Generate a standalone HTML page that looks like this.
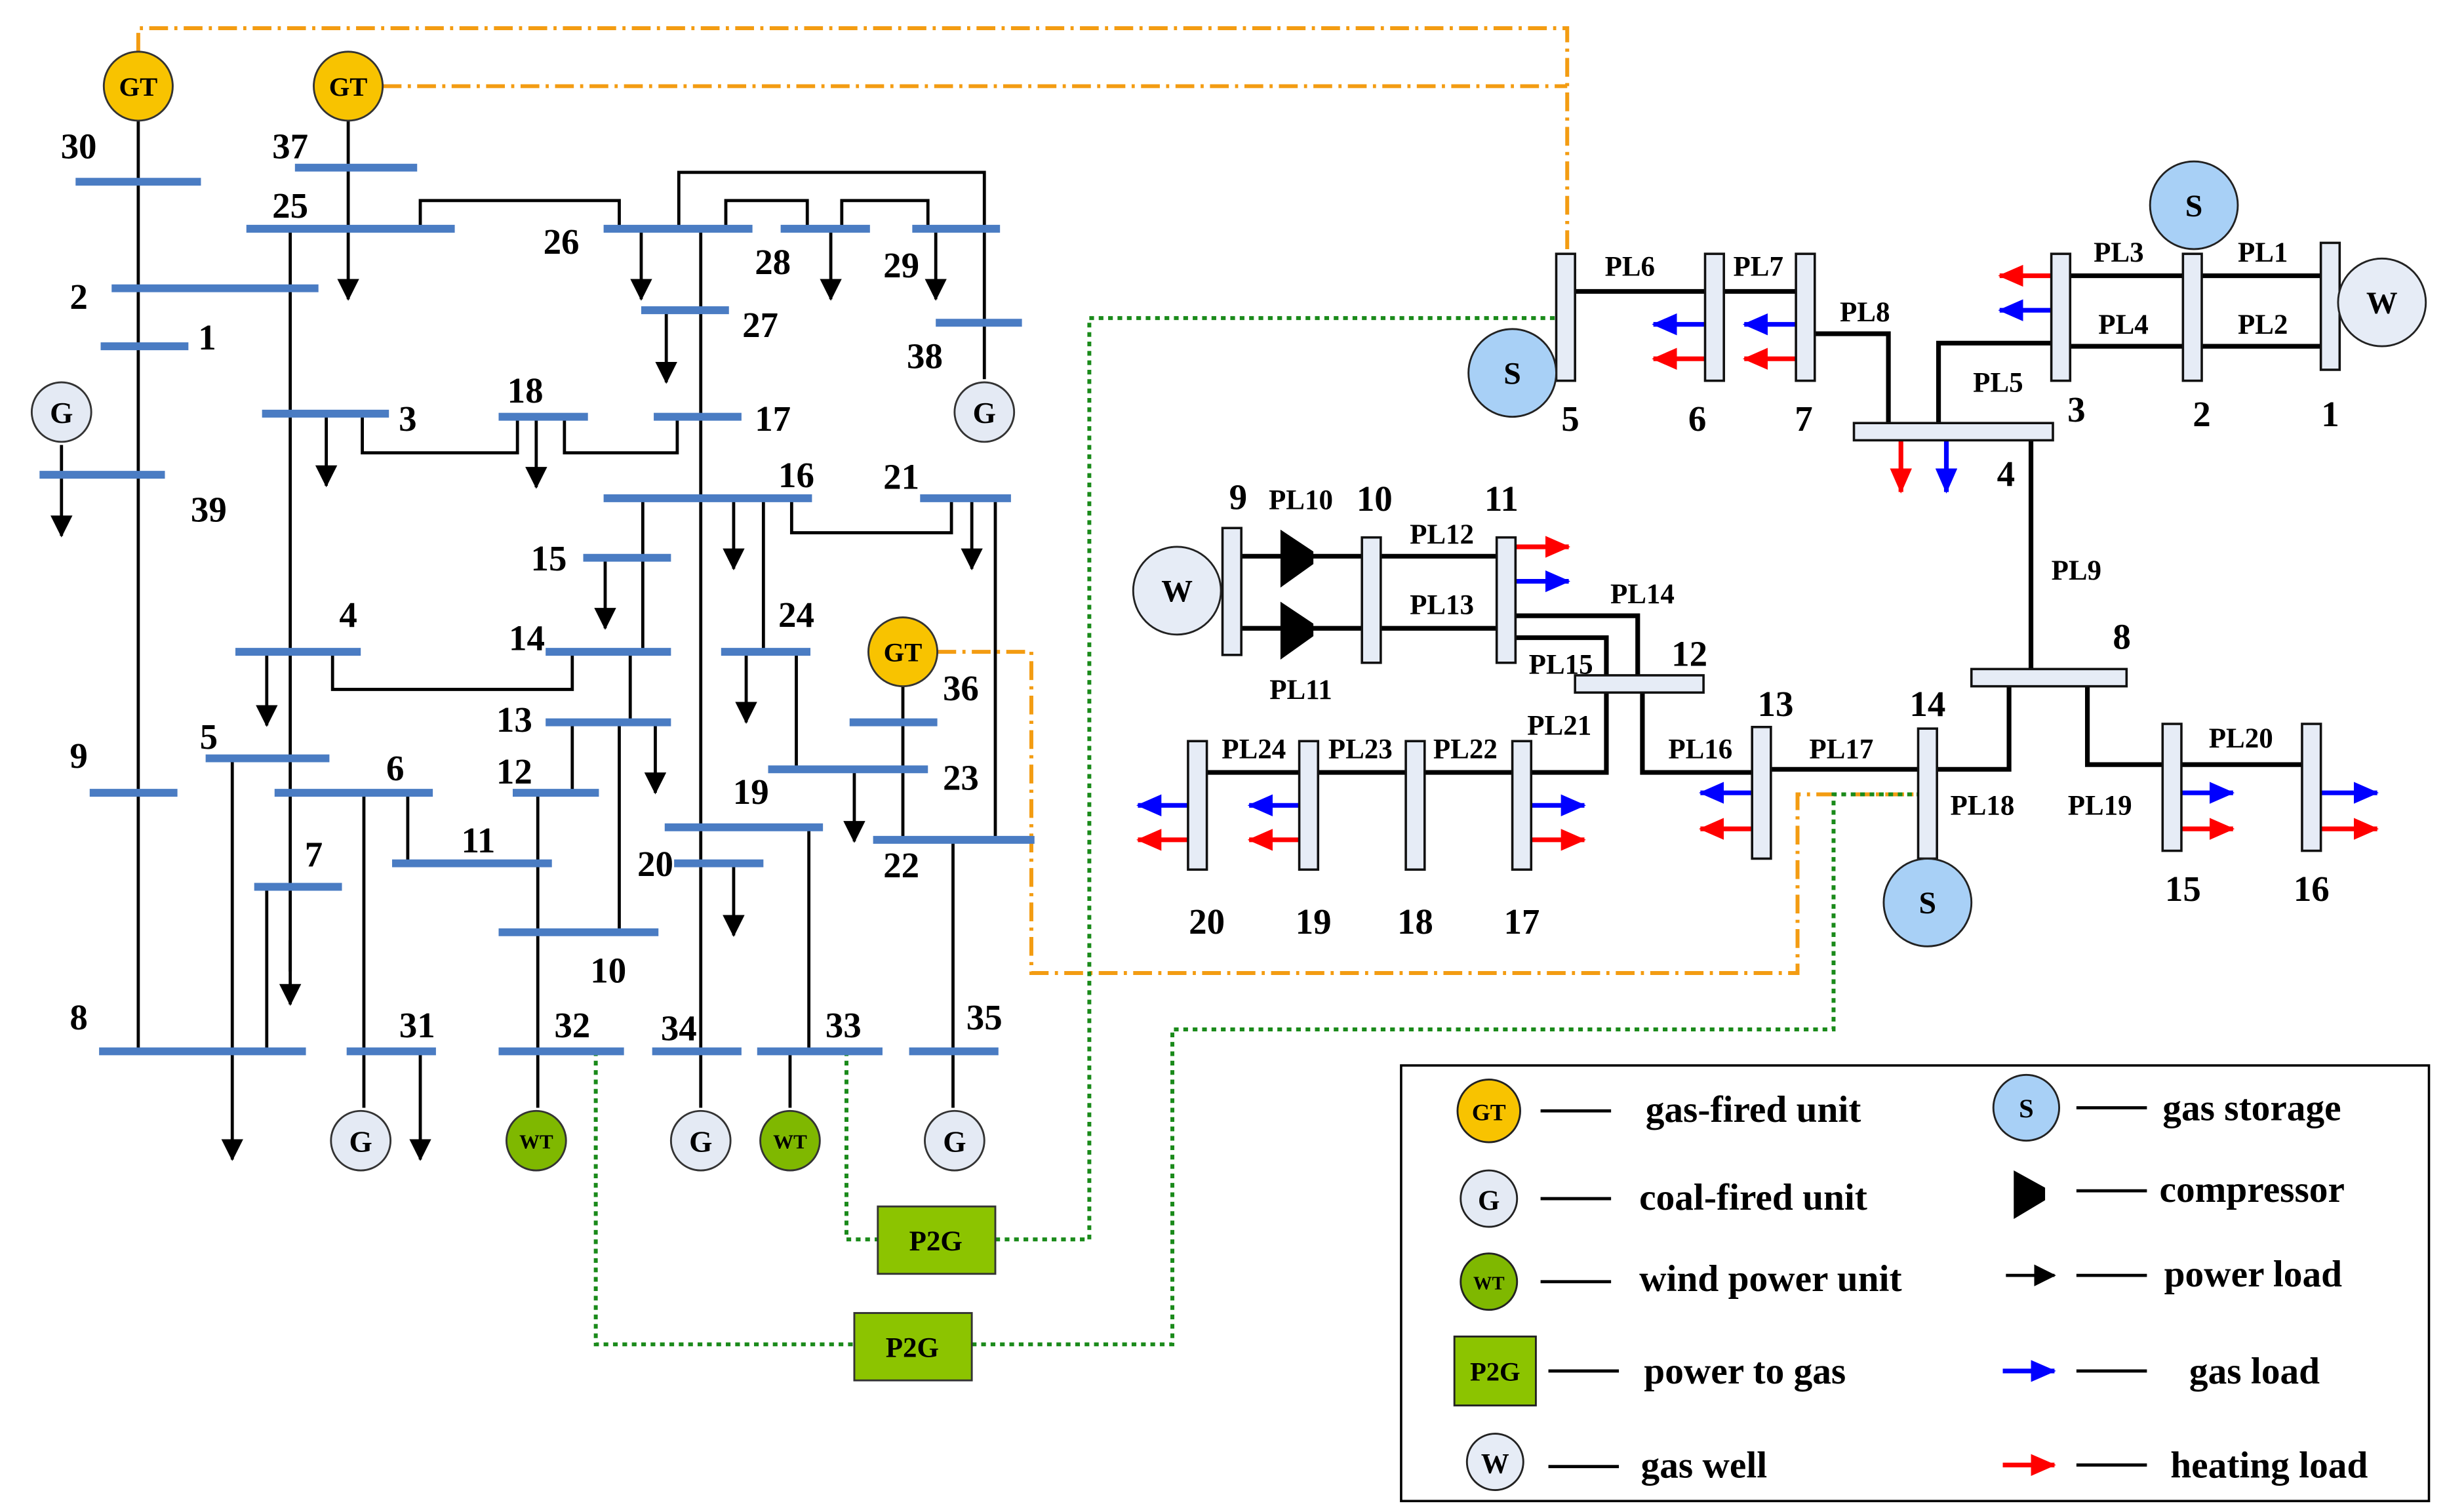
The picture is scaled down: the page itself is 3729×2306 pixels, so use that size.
<!DOCTYPE html>
<html><head><meta charset="utf-8"><style>html,body{margin:0;padding:0;background:#fff}svg{display:block}</style></head><body>
<svg xmlns="http://www.w3.org/2000/svg" width="3729" height="2306" viewBox="0 0 1560 965" font-family="Liberation Serif, serif" font-weight="bold">
<defs>
<marker id="ab" markerWidth="16" markerHeight="14" refX="15" refY="7" orient="auto" markerUnits="userSpaceOnUse"><path d="M0,0 L16,7 L0,14 z" fill="#00f"/></marker>
<marker id="ar" markerWidth="16" markerHeight="14" refX="15" refY="7" orient="auto" markerUnits="userSpaceOnUse"><path d="M0,0 L16,7 L0,14 z" fill="#f00"/></marker>
<marker id="ak2" markerWidth="14" markerHeight="14" refX="13" refY="7" orient="auto" markerUnits="userSpaceOnUse"><path d="M0,0 L14,7 L0,14 z" fill="#000"/></marker>
</defs>
<rect width="1560" height="965" fill="#fff"/>

<g fill="none" stroke="#f39c12" stroke-width="2.5" stroke-dasharray="12,4,2,4">
<polyline points="88,33 88,18 1000,18 1000,163"/>
<polyline points="244,55 1000,55"/>
<polyline points="598,416 658,416 658,621 1147,621 1147,507 1225,507"/>
</g>
<g fill="none" stroke="#1a8a1a" stroke-width="2.5" stroke-dasharray="3,3">
<polyline points="380,671 380,858 545,858"/>
<polyline points="620,858 748,858 748,657 1170,657 1170,507 1225,507"/>
<polyline points="540,671 540,791 560,791"/>
<polyline points="635,791 695,791 695,203 992,203"/>
</g>

<g fill="none" stroke="#000" stroke-width="2">
<line x1="88" y1="77" x2="88" y2="671"/>
<line x1="222" y1="77" x2="222" y2="146"/>
<line x1="185" y1="146" x2="185" y2="620"/>
<polyline points="268,146 268,128 395,128 395,146"/>
<polyline points="433,146 433,110 628,110 628,242"/>
<polyline points="463,146 463,128 515,128 515,146"/>
<polyline points="537,146 537,128 592,128 592,146"/>
<line x1="447" y1="146" x2="447" y2="707"/>
<polyline points="231,264 231,289 330,289 330,266"/>
<polyline points="360,266 360,289 432,289 432,266"/>
<line x1="487" y1="318" x2="487" y2="416"/>
<polyline points="505,318 505,340 607,340 607,318"/>
<line x1="635" y1="318" x2="635" y2="536"/>
<line x1="410" y1="318" x2="410" y2="416"/>
<polyline points="212,416 212,440 365,440 365,416"/>
<line x1="402" y1="416" x2="402" y2="461"/>
<line x1="365" y1="461" x2="365" y2="506"/>
<line x1="395" y1="461" x2="395" y2="595"/>
<line x1="508" y1="416" x2="508" y2="491"/>
<line x1="576" y1="438" x2="576" y2="536"/>
<line x1="516" y1="528" x2="516" y2="671"/>
<line x1="608" y1="536" x2="608" y2="707"/>
<line x1="232" y1="506" x2="232" y2="707"/>
<line x1="260" y1="506" x2="260" y2="551"/>
<line x1="170" y1="566" x2="170" y2="671"/>
<line x1="343" y1="506" x2="343" y2="707"/>
<line x1="504" y1="671" x2="504" y2="707"/>
<line x1="39" y1="303" x2="39" y2="284"/>
</g>
<g stroke="#000" stroke-width="2" marker-end="url(#ak2)">
<line x1="222" y1="146" x2="222" y2="191"/>
<line x1="185" y1="600" x2="185" y2="641"/>
<line x1="409" y1="146" x2="409" y2="191"/>
<line x1="530" y1="146" x2="530" y2="191"/>
<line x1="597" y1="146" x2="597" y2="191"/>
<line x1="425" y1="198" x2="425" y2="244"/>
<line x1="208" y1="264" x2="208" y2="310"/>
<line x1="342" y1="266" x2="342" y2="311"/>
<line x1="39" y1="303" x2="39" y2="342"/>
<line x1="468" y1="318" x2="468" y2="363"/>
<line x1="620" y1="318" x2="620" y2="363"/>
<line x1="386" y1="356" x2="386" y2="401"/>
<line x1="170" y1="416" x2="170" y2="463"/>
<line x1="418" y1="461" x2="418" y2="506"/>
<line x1="476" y1="416" x2="476" y2="461"/>
<line x1="545" y1="491" x2="545" y2="537"/>
<line x1="468" y1="551" x2="468" y2="597"/>
<line x1="148" y1="484" x2="148" y2="740"/>
<line x1="268" y1="671" x2="268" y2="740"/>
</g>

<g stroke="#4a7cc3" stroke-width="5">
<line x1="48" y1="116" x2="128" y2="116"/><line x1="188" y1="107" x2="266" y2="107"/>
<line x1="157" y1="146" x2="290" y2="146"/><line x1="71" y1="184" x2="203" y2="184"/>
<line x1="64" y1="221" x2="120" y2="221"/><line x1="25" y1="303" x2="105" y2="303"/>
<line x1="167" y1="264" x2="248" y2="264"/><line x1="318" y1="266" x2="375" y2="266"/>
<line x1="417" y1="266" x2="473" y2="266"/><line x1="385" y1="146" x2="480" y2="146"/>
<line x1="498" y1="146" x2="555" y2="146"/><line x1="582" y1="146" x2="638" y2="146"/>
<line x1="409" y1="198" x2="465" y2="198"/><line x1="597" y1="206" x2="652" y2="206"/>
<line x1="385" y1="318" x2="518" y2="318"/><line x1="587" y1="318" x2="645" y2="318"/>
<line x1="372" y1="356" x2="428" y2="356"/><line x1="150" y1="416" x2="230" y2="416"/>
<line x1="348" y1="416" x2="428" y2="416"/><line x1="460" y1="416" x2="517" y2="416"/>
<line x1="348" y1="461" x2="428" y2="461"/><line x1="131" y1="484" x2="210" y2="484"/>
<line x1="175" y1="506" x2="276" y2="506"/><line x1="327" y1="506" x2="382" y2="506"/>
<line x1="542" y1="461" x2="598" y2="461"/><line x1="490" y1="491" x2="592" y2="491"/>
<line x1="424" y1="528" x2="525" y2="528"/><line x1="430" y1="551" x2="487" y2="551"/>
<line x1="557" y1="536" x2="660" y2="536"/><line x1="250" y1="551" x2="352" y2="551"/>
<line x1="162" y1="566" x2="218" y2="566"/><line x1="57" y1="506" x2="113" y2="506"/>
<line x1="318" y1="595" x2="420" y2="595"/><line x1="63" y1="671" x2="195" y2="671"/>
<line x1="221" y1="671" x2="278" y2="671"/><line x1="318" y1="671" x2="398" y2="671"/>
<line x1="416" y1="671" x2="473" y2="671"/><line x1="483" y1="671" x2="563" y2="671"/>
<line x1="580" y1="671" x2="637" y2="671"/>
</g>

<g stroke="#333" stroke-width="1.2">
<circle cx="88" cy="55" r="22" fill="#f8c300"/><circle cx="222" cy="55" r="22" fill="#f8c300"/>
<circle cx="576" cy="416" r="22" fill="#f8c300"/>
<circle cx="39" cy="263" r="19" fill="#e4eaf4"/><circle cx="628" cy="263" r="19" fill="#e4eaf4"/>
<circle cx="230" cy="728" r="19" fill="#e4eaf4"/><circle cx="447" cy="728" r="19" fill="#e4eaf4"/>
<circle cx="609" cy="728" r="19" fill="#e4eaf4"/>
<circle cx="342" cy="728" r="19" fill="#7fb800"/><circle cx="504" cy="728" r="19" fill="#7fb800"/>
<rect x="560" y="770" width="75" height="43" fill="#8cc400"/>
<rect x="545" y="838" width="75" height="43" fill="#8cc400"/>
</g>
<g font-size="17" text-anchor="middle">
<text x="88" y="61">GT</text><text x="222" y="61">GT</text><text x="576" y="422">GT</text>
<text x="39" y="270" font-size="19">G</text><text x="628" y="270" font-size="19">G</text>
<text x="230" y="735" font-size="19">G</text><text x="447" y="735" font-size="19">G</text><text x="609" y="735" font-size="19">G</text>
<text x="342" y="733" font-size="13">WT</text><text x="504" y="733" font-size="13">WT</text>
<text x="597" y="798" font-size="18">P2G</text><text x="582" y="866" font-size="18">P2G</text>
</g>

<g font-size="23" text-anchor="middle">
<text x="50" y="101">30</text><text x="185" y="101">37</text><text x="185" y="139">25</text>
<text x="50" y="197">2</text><text x="132" y="223">1</text><text x="133" y="333">39</text>
<text x="260" y="275">3</text><text x="335" y="257">18</text><text x="493" y="275">17</text>
<text x="358" y="162">26</text><text x="493" y="175">28</text><text x="575" y="177">29</text>
<text x="485" y="215">27</text><text x="590" y="235">38</text><text x="508" y="311">16</text>
<text x="575" y="312">21</text><text x="350" y="364">15</text><text x="222" y="400">4</text>
<text x="336" y="415">14</text><text x="508" y="400">24</text><text x="328" y="467">13</text>
<text x="133" y="478">5</text><text x="252" y="498">6</text><text x="328" y="500">12</text>
<text x="613" y="447">36</text><text x="613" y="504">23</text><text x="479" y="513">19</text>
<text x="418" y="559">20</text><text x="575" y="560">22</text><text x="305" y="544">11</text>
<text x="200" y="553">7</text><text x="50" y="490">9</text><text x="388" y="627">10</text>
<text x="50" y="657">8</text><text x="266" y="662">31</text><text x="365" y="662">32</text>
<text x="433" y="664">34</text><text x="538" y="662">33</text><text x="628" y="657">35</text>
</g>

<g fill="none" stroke="#000" stroke-width="3">
<line x1="1005" y1="186" x2="1088" y2="186"/><line x1="1100" y1="186" x2="1146" y2="186"/>
<polyline points="1158,213 1205,213 1205,270"/>
<polyline points="1237,270 1237,219 1309,219"/>
<line x1="1321" y1="176" x2="1393" y2="176"/><line x1="1405" y1="176" x2="1481" y2="176"/>
<line x1="1321" y1="221" x2="1393" y2="221"/><line x1="1405" y1="221" x2="1481" y2="221"/>
<line x1="1296" y1="281" x2="1296" y2="427"/>
<polyline points="1282,438 1282,491 1236,491"/>
<polyline points="1332,438 1332,488 1380,488"/>
<line x1="1392" y1="488" x2="1469" y2="488"/>
<line x1="1130" y1="491" x2="1224" y2="491"/>
<polyline points="967,393 1045,393 1045,431"/>
<polyline points="1048,442 1048,493 1118,493"/>
<polyline points="967,407 1025,407 1025,431"/>
<polyline points="1025,442 1025,493 977,493"/>
<line x1="909" y1="493" x2="965" y2="493"/><line x1="841" y1="493" x2="897" y2="493"/>
<line x1="770" y1="493" x2="829" y2="493"/>
<line x1="881" y1="355" x2="955" y2="355"/><line x1="881" y1="401" x2="955" y2="401"/>
<line x1="792" y1="355" x2="869" y2="355"/><line x1="792" y1="401" x2="869" y2="401"/>
</g>
<path d="M817,338 L838,352 L838,360 L817,375 z" fill="#000"/>
<path d="M817,384 L838,398 L838,406 L817,421 z" fill="#000"/>

<g stroke-width="3">
<g stroke="#00f" marker-end="url(#ab)">
<line x1="1088" y1="207" x2="1055" y2="207"/><line x1="1146" y1="207" x2="1113" y2="207"/>
<line x1="1309" y1="198" x2="1276" y2="198"/><line x1="1242" y1="281" x2="1242" y2="314"/>
<line x1="967" y1="371" x2="1001" y2="371"/><line x1="1118" y1="506" x2="1085" y2="506"/>
<line x1="1392" y1="506" x2="1425" y2="506"/><line x1="1481" y1="506" x2="1517" y2="506"/>
<line x1="977" y1="514" x2="1011" y2="514"/><line x1="829" y1="514" x2="797" y2="514"/>
<line x1="758" y1="514" x2="726" y2="514"/>
</g>
<g stroke="#f00" marker-end="url(#ar)">
<line x1="1088" y1="229" x2="1055" y2="229"/><line x1="1146" y1="229" x2="1113" y2="229"/>
<line x1="1309" y1="176" x2="1276" y2="176"/><line x1="1213" y1="281" x2="1213" y2="314"/>
<line x1="967" y1="349" x2="1001" y2="349"/><line x1="1118" y1="529" x2="1085" y2="529"/>
<line x1="1392" y1="529" x2="1425" y2="529"/><line x1="1481" y1="529" x2="1517" y2="529"/>
<line x1="977" y1="536" x2="1011" y2="536"/><line x1="829" y1="536" x2="797" y2="536"/>
<line x1="758" y1="536" x2="726" y2="536"/>
</g>
</g>

<g fill="#e6ecf6" stroke="#111" stroke-width="1.5">
<rect x="993" y="162" width="12" height="81"/><rect x="1088" y="162" width="12" height="81"/>
<rect x="1146" y="162" width="12" height="81"/><rect x="1309" y="162" width="12" height="81"/>
<rect x="1393" y="162" width="12" height="81"/><rect x="1481" y="155" width="12" height="81"/>
<rect x="1183" y="270" width="127" height="11"/><rect x="1258" y="427" width="99" height="11"/>
<rect x="780" y="337" width="12" height="81"/><rect x="869" y="343" width="12" height="80"/>
<rect x="955" y="343" width="12" height="80"/><rect x="1005" y="431" width="82" height="11"/>
<rect x="1118" y="464" width="12" height="84"/><rect x="1224" y="465" width="12" height="83"/>
<rect x="1380" y="462" width="12" height="81"/><rect x="1469" y="462" width="12" height="81"/>
<rect x="965" y="473" width="12" height="82"/><rect x="897" y="473" width="12" height="82"/>
<rect x="829" y="473" width="12" height="82"/><rect x="758" y="473" width="12" height="82"/>
</g>
<g stroke="#222" stroke-width="1.2">
<circle cx="1400" cy="131" r="28" fill="#a8d0f6"/><circle cx="965" cy="238" r="28" fill="#a8d0f6"/>
<circle cx="1230" cy="576" r="28" fill="#a8d0f6"/>
<circle cx="1520" cy="193" r="28" fill="#e6ecf6"/><circle cx="751" cy="377" r="28" fill="#e6ecf6"/>
</g>
<g font-size="20" text-anchor="middle">
<text x="1400" y="138">S</text><text x="965" y="245">S</text><text x="1230" y="583">S</text>
<text x="1520" y="200">W</text><text x="751" y="384">W</text>
</g>
<g font-size="23" text-anchor="middle">
<text x="1002" y="275">5</text><text x="1083" y="275">6</text><text x="1151" y="275">7</text>
<text x="1325" y="269">3</text><text x="1405" y="272">2</text><text x="1487" y="272">1</text>
<text x="1280" y="310">4</text><text x="1354" y="414">8</text><text x="790" y="325">9</text>
<text x="877" y="326">10</text><text x="958" y="326">11</text><text x="1078" y="425">12</text>
<text x="1133" y="457">13</text><text x="1230" y="457">14</text><text x="1393" y="575">15</text>
<text x="1475" y="575">16</text><text x="971" y="596">17</text><text x="903" y="596">18</text>
<text x="838" y="596">19</text><text x="770" y="596">20</text>
</g>
<g font-size="18" text-anchor="middle">
<text x="1040" y="176">PL6</text><text x="1122" y="176">PL7</text><text x="1190" y="205">PL8</text>
<text x="1275" y="250">PL5</text><text x="1352" y="167">PL3</text><text x="1444" y="167">PL1</text>
<text x="1355" y="213">PL4</text><text x="1444" y="213">PL2</text><text x="1325" y="370">PL9</text>
<text x="1265" y="520">PL18</text><text x="1340" y="520">PL19</text><text x="1430" y="477">PL20</text>
<text x="1175" y="484">PL17</text><text x="1085" y="484">PL16</text><text x="1048" y="385">PL14</text>
<text x="996" y="430">PL15</text><text x="995" y="469">PL21</text><text x="935" y="484">PL22</text>
<text x="868" y="484">PL23</text><text x="800" y="484">PL24</text><text x="920" y="347">PL12</text>
<text x="920" y="392">PL13</text><text x="830" y="325">PL10</text><text x="830" y="446">PL11</text>
</g>

<rect x="894" y="680" width="656" height="278" fill="none" stroke="#000" stroke-width="1.5"/>
<g stroke="#222" stroke-width="1.2">
<circle cx="950" cy="709" r="20" fill="#f8c300"/><circle cx="950" cy="765" r="18" fill="#e4eaf4"/>
<circle cx="950" cy="818" r="18" fill="#7fb800"/><rect x="928" y="853" width="52" height="44" fill="#8cc400"/>
<circle cx="954" cy="933" r="18" fill="#e6ecf6"/><circle cx="1293" cy="707" r="21" fill="#a8d0f6"/>
</g>
<path d="M1285,747 L1305,758 L1305,766 L1285,778 z" fill="#000"/>
<g stroke="#000" stroke-width="2">
<line x1="983" y1="709" x2="1028" y2="709"/><line x1="983" y1="765" x2="1028" y2="765"/>
<line x1="983" y1="818" x2="1028" y2="818"/><line x1="988" y1="875" x2="1033" y2="875"/>
<line x1="988" y1="936" x2="1033" y2="936"/><line x1="1325" y1="707" x2="1370" y2="707"/>
<line x1="1325" y1="760" x2="1370" y2="760"/><line x1="1325" y1="814" x2="1370" y2="814"/>
<line x1="1325" y1="875" x2="1370" y2="875"/><line x1="1325" y1="935" x2="1370" y2="935"/>
</g>
<line x1="1280" y1="814" x2="1311" y2="814" stroke="#000" stroke-width="2" marker-end="url(#ak2)"/>
<line x1="1278" y1="875" x2="1311" y2="875" stroke="#00f" stroke-width="3" marker-end="url(#ab)"/>
<line x1="1278" y1="935" x2="1311" y2="935" stroke="#f00" stroke-width="3" marker-end="url(#ar)"/>
<g font-size="15" text-anchor="middle">
<text x="950" y="715">GT</text><text x="950" y="772" font-size="18">G</text><text x="950" y="823" font-size="12">WT</text>
<text x="954" y="881" font-size="17">P2G</text><text x="954" y="940" font-size="18">W</text><text x="1293" y="713" font-size="17">S</text>
</g>
<g font-size="24">
<text x="1050" y="716">gas-fired unit</text><text x="1046" y="772">coal-fired unit</text>
<text x="1046" y="824">wind power unit</text><text x="1049" y="883">power to gas</text>
<text x="1047" y="943">gas well</text><text x="1380" y="715">gas storage</text>
<text x="1378" y="767">compressor</text><text x="1381" y="821">power load</text>
<text x="1397" y="883">gas load</text><text x="1385" y="943">heating load</text>
</g>
</svg>
</body></html>
